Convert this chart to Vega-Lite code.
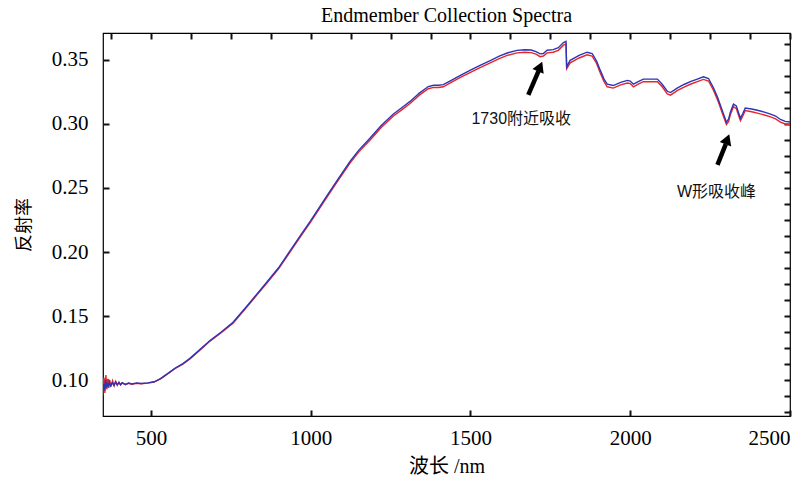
{
  "$schema": "https://vega.github.io/schema/vega-lite/v6.json",
  "autosize": {"type": "none"},
  "width": 687,
  "height": 383,
  "padding": {"left": 103, "top": 33, "right": 22, "bottom": 66},
  "background": "white",
  "title": {"text": "Endmember Collection Spectra", "font": "Liberation Serif", "fontSize": 20, "fontWeight": "normal", "color": "#000", "offset": 6, "anchor": "middle"},
  "config": {
    "view": {"stroke": "#000", "strokeWidth": 1.2},
    "axis": {"grid": false, "domain": false, "labelColor": "#000", "titleColor": "#000", "labelFont": "Liberation Serif", "labelFontSize": 21, "titleFontWeight": "normal"}
  },
  "datasets": {
    "spec": [
      {"nm":350,"v":0.095,"s":"r"},{"nm":353,"v":0.102,"s":"r"},{"nm":356,"v":0.090,"s":"r"},{"nm":359,"v":0.104,"s":"r"},{"nm":362,"v":0.093,"s":"r"},{"nm":365,"v":0.101,"s":"r"},{"nm":368,"v":0.094,"s":"r"},{"nm":371,"v":0.100,"s":"r"},{"nm":375,"v":0.095,"s":"r"},{"nm":380,"v":0.0995,"s":"r"},{"nm":385,"v":0.0955,"s":"r"},{"nm":390,"v":0.099,"s":"r"},{"nm":395,"v":0.096,"s":"r"},{"nm":400,"v":0.0985,"s":"r"},{"nm":405,"v":0.0962,"s":"r"},{"nm":410,"v":0.0978,"s":"r"},{"nm":420,"v":0.0965,"s":"r"},{"nm":430,"v":0.0975,"s":"r"},{"nm":440,"v":0.0968,"s":"r"},{"nm":455,"v":0.0975,"s":"r"},{"nm":470,"v":0.0972,"s":"r"},{"nm":490,"v":0.0977,"s":"r"},{"nm":510,"v":0.0985,"s":"r"},{"nm":530,"v":0.101,"s":"r"},{"nm":550,"v":0.1045,"s":"r"},{"nm":575,"v":0.109,"s":"r"},{"nm":600,"v":0.1125,"s":"r"},{"nm":622,"v":0.1165,"s":"r"},{"nm":654,"v":0.1235,"s":"r"},{"nm":685,"v":0.1305,"s":"r"},{"nm":720,"v":0.137,"s":"r"},{"nm":757,"v":0.1445,"s":"r"},{"nm":800,"v":0.157,"s":"r"},{"nm":863,"v":0.1758,"s":"r"},{"nm":900,"v":0.187,"s":"r"},{"nm":967,"v":0.2117,"s":"r"},{"nm":1000,"v":0.2235,"s":"r"},{"nm":1050,"v":0.2425,"s":"r"},{"nm":1086,"v":0.256,"s":"r"},{"nm":1123,"v":0.2695,"s":"r"},{"nm":1150,"v":0.278,"s":"r"},{"nm":1186,"v":0.2875,"s":"r"},{"nm":1220,"v":0.297,"s":"r"},{"nm":1258,"v":0.306,"s":"r"},{"nm":1290,"v":0.312,"s":"r"},{"nm":1311,"v":0.316,"s":"r"},{"nm":1340,"v":0.3225,"s":"r"},{"nm":1368,"v":0.3275,"s":"r"},{"nm":1385,"v":0.3285,"s":"r"},{"nm":1400,"v":0.3285,"s":"r"},{"nm":1415,"v":0.329,"s":"r"},{"nm":1437,"v":0.332,"s":"r"},{"nm":1470,"v":0.3365,"s":"r"},{"nm":1500,"v":0.3403,"s":"r"},{"nm":1530,"v":0.344,"s":"r"},{"nm":1562,"v":0.3477,"s":"r"},{"nm":1590,"v":0.351,"s":"r"},{"nm":1615,"v":0.3535,"s":"r"},{"nm":1646,"v":0.3555,"s":"r"},{"nm":1670,"v":0.356,"s":"r"},{"nm":1690,"v":0.3557,"s":"r"},{"nm":1705,"v":0.3545,"s":"r"},{"nm":1718,"v":0.3525,"s":"r"},{"nm":1728,"v":0.353,"s":"r"},{"nm":1740,"v":0.3555,"s":"r"},{"nm":1759,"v":0.356,"s":"r"},{"nm":1775,"v":0.3575,"s":"r"},{"nm":1791,"v":0.3615,"s":"r"},{"nm":1799,"v":0.3625,"s":"r"},{"nm":1801,"v":0.343,"s":"r"},{"nm":1812,"v":0.3477,"s":"r"},{"nm":1840,"v":0.3515,"s":"r"},{"nm":1865,"v":0.354,"s":"r"},{"nm":1881,"v":0.353,"s":"r"},{"nm":1895,"v":0.347,"s":"r"},{"nm":1906,"v":0.340,"s":"r"},{"nm":1918,"v":0.333,"s":"r"},{"nm":1928,"v":0.329,"s":"r"},{"nm":1947,"v":0.328,"s":"r"},{"nm":1970,"v":0.3305,"s":"r"},{"nm":1991,"v":0.332,"s":"r"},{"nm":2000,"v":0.3315,"s":"r"},{"nm":2010,"v":0.329,"s":"r"},{"nm":2025,"v":0.331,"s":"r"},{"nm":2041,"v":0.333,"s":"r"},{"nm":2063,"v":0.333,"s":"r"},{"nm":2085,"v":0.333,"s":"r"},{"nm":2100,"v":0.329,"s":"r"},{"nm":2116,"v":0.3235,"s":"r"},{"nm":2126,"v":0.3225,"s":"r"},{"nm":2148,"v":0.3262,"s":"r"},{"nm":2170,"v":0.329,"s":"r"},{"nm":2188,"v":0.331,"s":"r"},{"nm":2210,"v":0.333,"s":"r"},{"nm":2229,"v":0.3348,"s":"r"},{"nm":2245,"v":0.3335,"s":"r"},{"nm":2260,"v":0.3265,"s":"r"},{"nm":2273,"v":0.319,"s":"r"},{"nm":2288,"v":0.3086,"s":"r"},{"nm":2301,"v":0.2995,"s":"r"},{"nm":2308,"v":0.302,"s":"r"},{"nm":2313,"v":0.307,"s":"r"},{"nm":2323,"v":0.3135,"s":"r"},{"nm":2332,"v":0.312,"s":"r"},{"nm":2340,"v":0.306,"s":"r"},{"nm":2345,"v":0.3025,"s":"r"},{"nm":2352,"v":0.306,"s":"r"},{"nm":2360,"v":0.3105,"s":"r"},{"nm":2380,"v":0.3095,"s":"r"},{"nm":2398,"v":0.3085,"s":"r"},{"nm":2420,"v":0.307,"s":"r"},{"nm":2439,"v":0.3055,"s":"r"},{"nm":2455,"v":0.304,"s":"r"},{"nm":2470,"v":0.3015,"s":"r"},{"nm":2485,"v":0.300,"s":"r"},{"nm":2500,"v":0.2995,"s":"r"},
      {"nm":350,"v":0.088,"s":"b"},{"nm":352,"v":0.097,"s":"b"},{"nm":355,"v":0.092,"s":"b"},{"nm":358,"v":0.100,"s":"b"},{"nm":361,"v":0.094,"s":"b"},{"nm":364,"v":0.098,"s":"b"},{"nm":367,"v":0.095,"s":"b"},{"nm":370,"v":0.0985,"s":"b"},{"nm":374,"v":0.0955,"s":"b"},{"nm":379,"v":0.098,"s":"b"},{"nm":384,"v":0.096,"s":"b"},{"nm":389,"v":0.0985,"s":"b"},{"nm":394,"v":0.0965,"s":"b"},{"nm":400,"v":0.098,"s":"b"},{"nm":405,"v":0.0965,"s":"b"},{"nm":410,"v":0.098,"s":"b"},{"nm":420,"v":0.0967,"s":"b"},{"nm":430,"v":0.0977,"s":"b"},{"nm":440,"v":0.097,"s":"b"},{"nm":455,"v":0.0977,"s":"b"},{"nm":470,"v":0.0974,"s":"b"},{"nm":490,"v":0.0979,"s":"b"},{"nm":510,"v":0.0987,"s":"b"},{"nm":530,"v":0.1012,"s":"b"},{"nm":550,"v":0.1047,"s":"b"},{"nm":575,"v":0.1093,"s":"b"},{"nm":600,"v":0.1129,"s":"b"},{"nm":622,"v":0.117,"s":"b"},{"nm":654,"v":0.124,"s":"b"},{"nm":685,"v":0.131,"s":"b"},{"nm":720,"v":0.1376,"s":"b"},{"nm":757,"v":0.1452,"s":"b"},{"nm":800,"v":0.1577,"s":"b"},{"nm":863,"v":0.1766,"s":"b"},{"nm":900,"v":0.1879,"s":"b"},{"nm":967,"v":0.2127,"s":"b"},{"nm":1000,"v":0.2245,"s":"b"},{"nm":1050,"v":0.2436,"s":"b"},{"nm":1086,"v":0.2572,"s":"b"},{"nm":1123,"v":0.2708,"s":"b"},{"nm":1150,"v":0.2794,"s":"b"},{"nm":1186,"v":0.289,"s":"b"},{"nm":1220,"v":0.2986,"s":"b"},{"nm":1258,"v":0.3076,"s":"b"},{"nm":1290,"v":0.3136,"s":"b"},{"nm":1311,"v":0.3176,"s":"b"},{"nm":1340,"v":0.3241,"s":"b"},{"nm":1368,"v":0.3292,"s":"b"},{"nm":1385,"v":0.3302,"s":"b"},{"nm":1400,"v":0.3302,"s":"b"},{"nm":1415,"v":0.3307,"s":"b"},{"nm":1437,"v":0.3337,"s":"b"},{"nm":1470,"v":0.3382,"s":"b"},{"nm":1500,"v":0.3421,"s":"b"},{"nm":1530,"v":0.3458,"s":"b"},{"nm":1562,"v":0.3495,"s":"b"},{"nm":1590,"v":0.3529,"s":"b"},{"nm":1615,"v":0.3554,"s":"b"},{"nm":1646,"v":0.3574,"s":"b"},{"nm":1670,"v":0.3579,"s":"b"},{"nm":1690,"v":0.3577,"s":"b"},{"nm":1705,"v":0.3565,"s":"b"},{"nm":1718,"v":0.3547,"s":"b"},{"nm":1728,"v":0.355,"s":"b"},{"nm":1740,"v":0.3575,"s":"b"},{"nm":1759,"v":0.358,"s":"b"},{"nm":1775,"v":0.3595,"s":"b"},{"nm":1791,"v":0.3635,"s":"b"},{"nm":1799,"v":0.3645,"s":"b"},{"nm":1801,"v":0.3448,"s":"b"},{"nm":1812,"v":0.3497,"s":"b"},{"nm":1840,"v":0.3535,"s":"b"},{"nm":1865,"v":0.356,"s":"b"},{"nm":1881,"v":0.355,"s":"b"},{"nm":1895,"v":0.349,"s":"b"},{"nm":1906,"v":0.342,"s":"b"},{"nm":1918,"v":0.335,"s":"b"},{"nm":1928,"v":0.331,"s":"b"},{"nm":1947,"v":0.330,"s":"b"},{"nm":1970,"v":0.3325,"s":"b"},{"nm":1991,"v":0.334,"s":"b"},{"nm":2000,"v":0.3335,"s":"b"},{"nm":2010,"v":0.331,"s":"b"},{"nm":2025,"v":0.333,"s":"b"},{"nm":2041,"v":0.335,"s":"b"},{"nm":2063,"v":0.335,"s":"b"},{"nm":2085,"v":0.335,"s":"b"},{"nm":2100,"v":0.331,"s":"b"},{"nm":2116,"v":0.3255,"s":"b"},{"nm":2126,"v":0.3245,"s":"b"},{"nm":2148,"v":0.3282,"s":"b"},{"nm":2170,"v":0.331,"s":"b"},{"nm":2188,"v":0.333,"s":"b"},{"nm":2210,"v":0.335,"s":"b"},{"nm":2229,"v":0.3368,"s":"b"},{"nm":2245,"v":0.3355,"s":"b"},{"nm":2260,"v":0.3285,"s":"b"},{"nm":2273,"v":0.321,"s":"b"},{"nm":2288,"v":0.3106,"s":"b"},{"nm":2301,"v":0.3013,"s":"b"},{"nm":2308,"v":0.304,"s":"b"},{"nm":2313,"v":0.309,"s":"b"},{"nm":2323,"v":0.3155,"s":"b"},{"nm":2332,"v":0.314,"s":"b"},{"nm":2340,"v":0.308,"s":"b"},{"nm":2345,"v":0.3045,"s":"b"},{"nm":2352,"v":0.308,"s":"b"},{"nm":2360,"v":0.3125,"s":"b"},{"nm":2380,"v":0.3117,"s":"b"},{"nm":2398,"v":0.3107,"s":"b"},{"nm":2420,"v":0.3092,"s":"b"},{"nm":2439,"v":0.3077,"s":"b"},{"nm":2455,"v":0.3062,"s":"b"},{"nm":2470,"v":0.3035,"s":"b"},{"nm":2485,"v":0.302,"s":"b"},{"nm":2500,"v":0.3015,"s":"b"}
    ],
    "arrows": [
      {"x1": 1681, "y1": 0.3227, "x2": 1713, "y2": 0.3412, "xt": 1718, "yt": 0.3448, "ang": 23},
      {"x1": 2273, "y1": 0.268, "x2": 2299, "y2": 0.2842, "xt": 2304, "yt": 0.2880, "ang": 21}
    ],
    "notes": [
      {"x": 1659, "y": 0.3039, "t": "1730附近吸收"},
      {"x": 2270, "y": 0.2469, "t": "W形吸收峰"}
    ]
  },
  "layer": [
    {
      "data": {"name": "spec"},
      "mark": {"type": "line", "strokeWidth": 1.4, "clip": true},
      "encoding": {
        "x": {"field": "nm", "type": "quantitative", "scale": {"domain": [350, 2500], "nice": false, "zero": false},
          "axis": {"orient": "bottom", "title": "波长 /nm", "titleFont": "Liberation Serif, Noto Sans CJK SC", "titleFontSize": 20, "titlePadding": 8,
            "values": [500, 1000, 1500, 2000, 2500], "format": "d",
            "tickSize": 6, "offset": -6, "tickColor": "#111111", "tickWidth": 2,
            "labelPadding": 11}},
        "y": {"field": "v", "type": "quantitative", "scale": {"domain": [0.072, 0.371], "nice": false, "zero": false},
          "axis": {"orient": "left", "title": "反射率", "titleFont": "Noto Sans CJK SC", "titleFontSize": 18, "titlePadding": 18,
            "values": [0.1, 0.15, 0.2, 0.25, 0.3, 0.35], "format": ".2f",
            "tickSize": 6, "offset": -6, "tickColor": "#111111", "tickWidth": 2,
            "labelPadding": 15}},
        "color": {"field": "s", "type": "nominal", "scale": {"domain": ["b", "r"], "range": ["#2b35b5", "#e8252b"]}, "legend": null}
      }
    },
    {
      "data": {"name": "arrows"},
      "mark": {"type": "rule", "strokeWidth": 4.5, "color": "#000"},
      "encoding": {
        "x": {"field": "x1", "type": "quantitative", "scale": {"domain": [350, 2500], "nice": false, "zero": false},
          "axis": {"orient": "top", "title": null, "labels": false,
            "tickSize": 6, "offset": -6, "tickColor": "#111111", "tickWidth": 2,
            "values": [375,500,625,750,875,1000,1125,1250,1375,1500,1625,1750,1875,2000,2125,2250,2375,2500]}},
        "y": {"field": "y1", "type": "quantitative", "scale": {"domain": [0.072, 0.371], "nice": false, "zero": false},
          "axis": {"orient": "right", "title": null, "labels": false,
            "tickSize": 6, "offset": -6, "tickColor": "#111111", "tickWidth": 2,
            "values": [0.075,0.0875,0.1,0.1125,0.125,0.1375,0.15,0.1625,0.175,0.1875,0.2,0.2125,0.225,0.2375,0.25,0.2625,0.275,0.2875,0.3,0.3125,0.325,0.3375,0.35,0.3625]}},
        "x2": {"field": "x2"},
        "y2": {"field": "y2"}
      }
    },
    {
      "data": {"name": "arrows"},
      "mark": {"type": "point", "shape": "triangle-up", "filled": true, "color": "#000", "size": 150, "opacity": 1},
      "encoding": {
        "x": {"field": "xt", "type": "quantitative", "scale": {"domain": [350, 2500], "nice": false, "zero": false}, "axis": null},
        "y": {"field": "yt", "type": "quantitative", "scale": {"domain": [0.072, 0.371], "nice": false, "zero": false}, "axis": null},
        "angle": {"field": "ang", "type": "quantitative", "scale": null}
      }
    },
    {
      "data": {"name": "notes"},
      "mark": {"type": "text", "font": "Liberation Sans, Noto Sans CJK SC", "fontSize": 16, "color": "#111", "align": "center", "baseline": "middle"},
      "encoding": {
        "x": {"field": "x", "type": "quantitative", "scale": {"domain": [350, 2500], "nice": false, "zero": false}, "axis": null},
        "y": {"field": "y", "type": "quantitative", "scale": {"domain": [0.072, 0.371], "nice": false, "zero": false}, "axis": null},
        "text": {"field": "t"}
      }
    }
  ],
  "resolve": {"axis": {"x": "independent", "y": "independent"}}
}
